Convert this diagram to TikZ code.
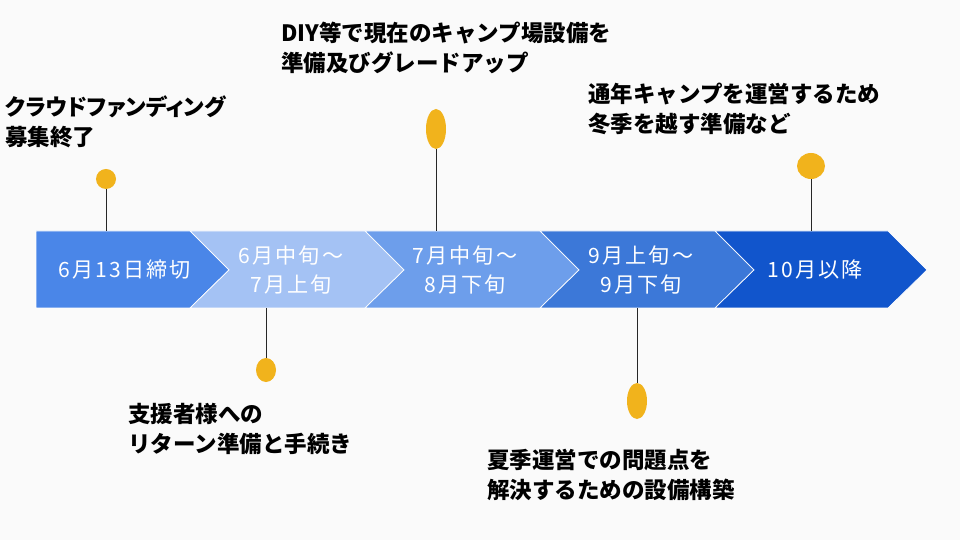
\documentclass[tikz,border=0pt]{standalone}
\usepackage{fontspec}
\setmainfont{Noto Sans CJK JP}
\usepackage{tikz}
\usetikzlibrary{shapes.geometric}

\definecolor{segA}{HTML}{4A86E8}
\definecolor{segB}{HTML}{A4C2F4}
\definecolor{segC}{HTML}{6D9EEB}
\definecolor{segD}{HTML}{3C78D8}
\definecolor{segE}{HTML}{1155CC}
\definecolor{pinc}{HTML}{F1B31C}
\definecolor{paper}{HTML}{FAFAFA}

\begin{document}
\begin{tikzpicture}[x=0.025cm, y=0.025cm,
  seg/.style={draw=white, line width=0.5pt},
  period/.style={text=white, align=center, inner sep=0pt,
    font=\fontsize{15}{20.8}\selectfont\addfontfeature{LetterSpace=10}},
  pindot/.style={ellipse, fill=pinc, inner sep=0pt, minimum width=0.5cm},
  stem/.style={draw=black!85, line width=0.6pt},
  note/.style={anchor=west, align=left, inner sep=0pt,
    font=\bfseries\fontsize{16}{21.3}\selectfont}]

  % Page
  \fill[paper] (0,0) rectangle (960,540);
  \useasboundingbox (0,0) rectangle (960,540);

  % Arrow band
  \filldraw[seg, fill=segA] (36,309) -- (190,309) -- (229,270) -- (190,232) -- (36,232) -- cycle;
  \filldraw[seg, fill=segB] (190,309) -- (365,309) -- (404,270) -- (365,232) -- (190,232) -- (229,270) -- cycle;
  \filldraw[seg, fill=segC] (365,309) -- (540,309) -- (579,270) -- (540,232) -- (365,232) -- (404,270) -- cycle;
  \filldraw[seg, fill=segD] (540,309) -- (715,309) -- (754,270) -- (715,232) -- (540,232) -- (579,270) -- cycle;
  \filldraw[seg, fill=segE] (715,309) -- (888,309) -- (927,270) -- (888,232) -- (715,232) -- (754,270) -- cycle;

  % Periods
  \node[period] (t1) at (125,270) {6月13日締切};
  \node[period] (t2) at (291,270) {6月中旬～\\7月上旬};
  \node[period] (t3) at (465,270) {7月中旬～\\8月下旬};
  \node[period] (t4) at (641,270) {9月上旬～\\9月下旬};
  \node[period] (t5) at (815,270) {10月以降};

  % Stem feet on the band
  \coordinate (s1) at (106,309);
  \coordinate (s2) at (266,232);
  \coordinate (s3) at (436,309);
  \coordinate (s4) at (637,232);
  \coordinate (s5) at (811,309);

  % Pins
  \node[pindot, minimum height=0.5cm] (d1) at (106,361) {};
  \node[pindot, minimum height=0.6cm] (d2) at (266,170) {};
  \node[pindot, minimum height=1.0cm] (d3) at (436,411) {};
  \node[pindot, minimum height=0.9cm] (d4) at (637,139) {};
  \node[pindot, minimum width=0.7cm, minimum height=0.65cm] (d5) at (811,374) {};

  \draw[stem] (d1) -- (s1);
  \draw[stem] (d2) -- (s2);
  \draw[stem] (d3) -- (s3);
  \draw[stem] (d4) -- (s4);
  \draw[stem] (d5) -- (s5);

  % Notes
  \node[note] (n1) at (5,418) {\addfontfeature{RawFeature=+palt}クラウドファンディング\\募集終了};
  \node[note] (n2) at (281,492) {DIY等で現在のキャンプ場設備を\\準備及びグレードアップ};
  \node[note] (n3) at (588,431) {通年キャンプを運営するため\\冬季を越す準備など};
  \node[note] (n4) at (128,111) {支援者様への\\リターン準備と手続き};
  \node[note] (n5) at (487,65) {夏季運営での問題点を\\解決するための設備構築};
\end{tikzpicture}
\end{document}
